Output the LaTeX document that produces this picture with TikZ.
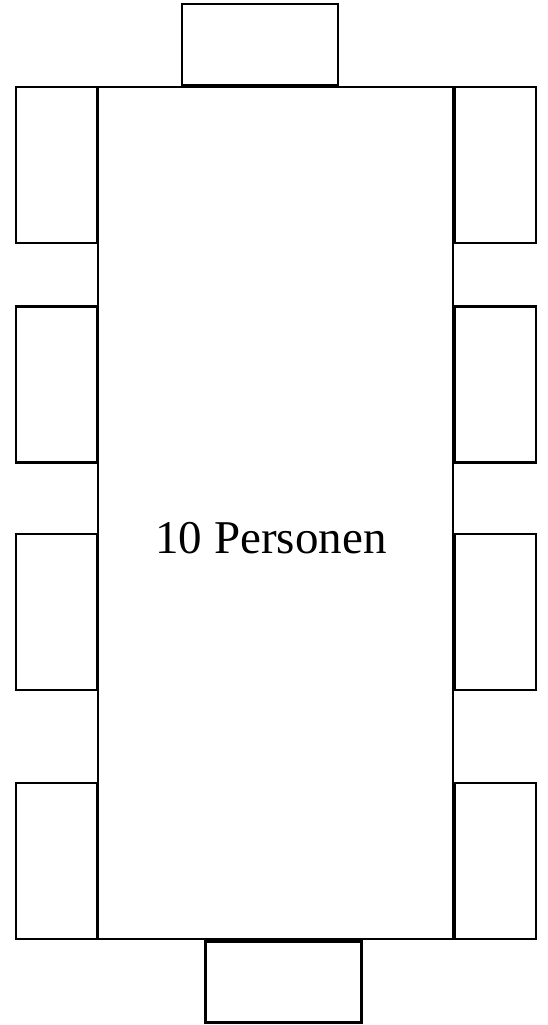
\documentclass[tikz,border=0pt]{standalone}
\usepackage{fontspec}
\setmainfont{Liberation Serif}
\usetikzlibrary{positioning}

\begin{document}
\begin{tikzpicture}[x=1pt, y=-1pt,
      tablebox/.style={rectangle, draw=black, line width=2.2pt, fill=white,
                       minimum width=355pt, minimum height=852pt, inner sep=0pt},
      sidechair/.style={rectangle, draw=black, line width=2.2pt,
                        minimum width=81pt, minimum height=156pt, inner sep=0pt},
      endchair/.style={rectangle, draw=black, line width=2.2pt,
                       minimum width=156pt, minimum height=81pt, inner sep=0pt}
    ]
    \useasboundingbox (0,0) rectangle (547,1025);
    % table
    \node[tablebox] (t) at (275.5,513) {};
    \node (lbl) at (271,538) {\fontsize{47}{56}\selectfont 10 Personen};
    % chairs on the long sides
    \foreach \cy [count=\i] in {165,384.5,612,861} {
      \node[sidechair] (l\i) at (56.5,\cy) {};
      \node[sidechair] (r\i) at (495.5,\cy) {};
    }
    % chairs at the ends
    \node[endchair] (top) at (260,44.5) {};
    \node[endchair] (bot) at (283.5,982) {};
  \end{tikzpicture}
\end{document}
